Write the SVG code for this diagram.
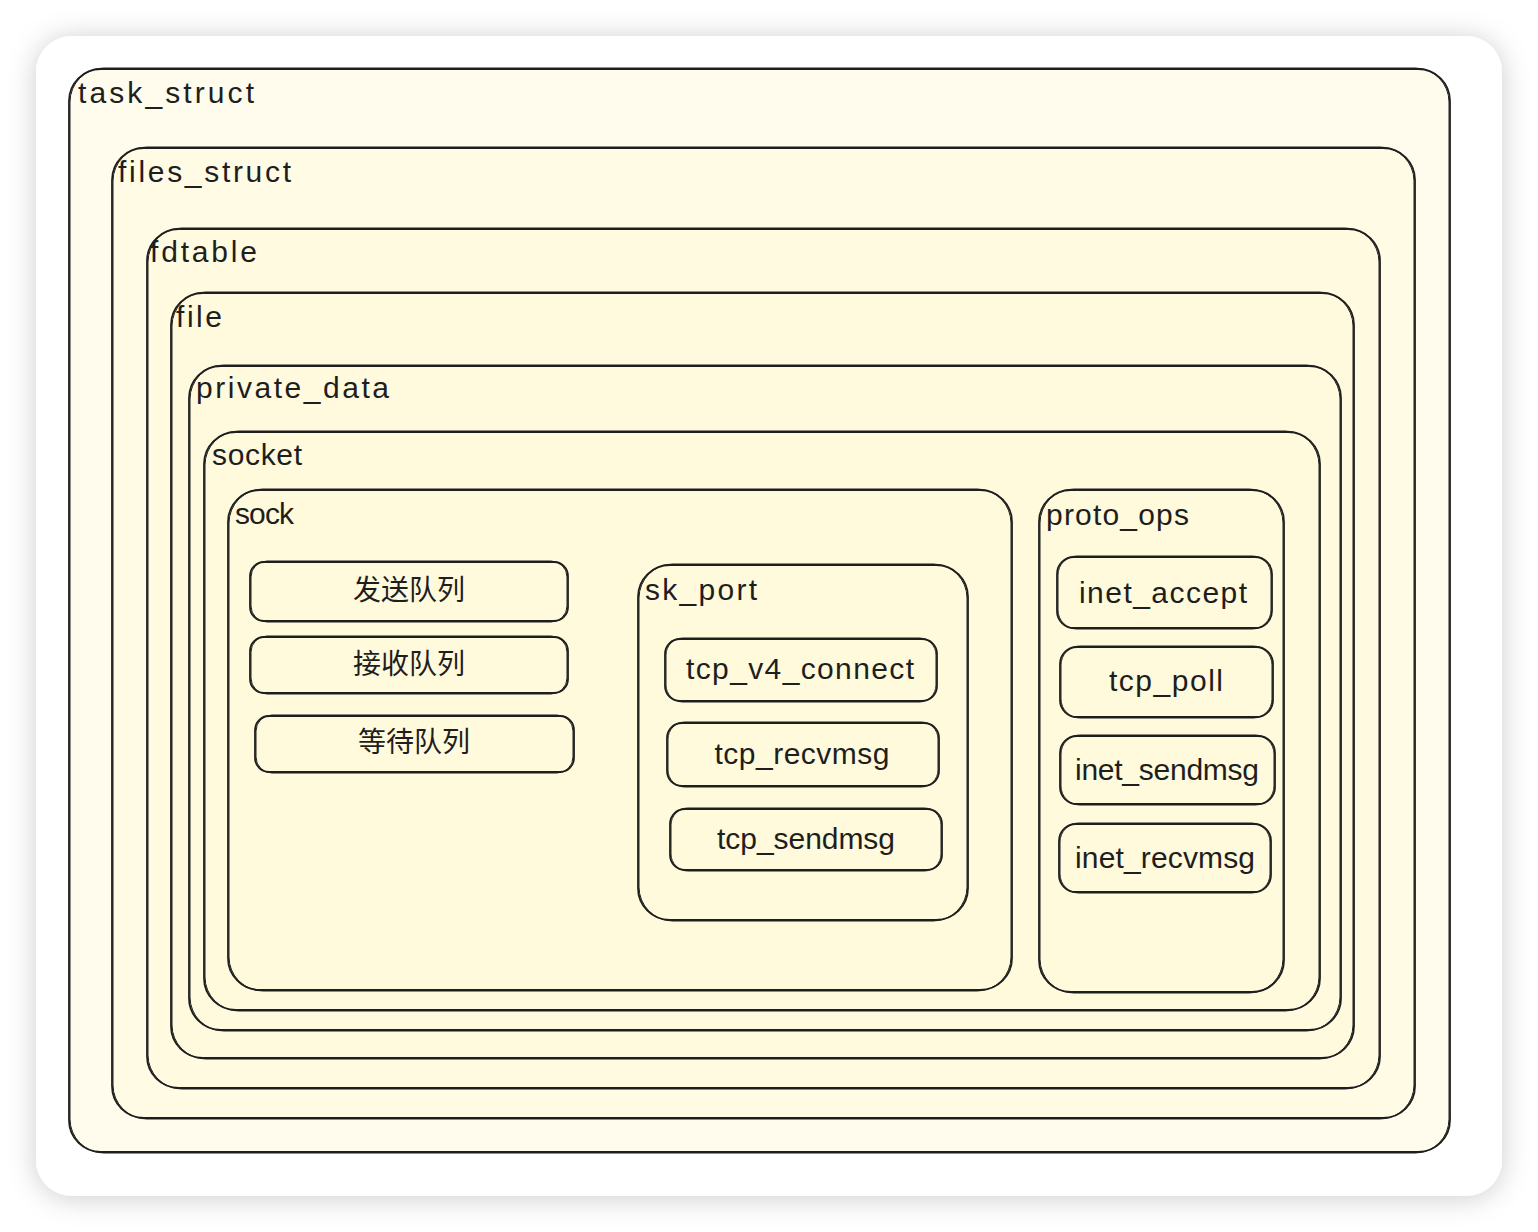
<svg xmlns="http://www.w3.org/2000/svg" width="1538" height="1232" viewBox="0 0 1538 1232">
<defs>
<filter id="shadow" x="-10%" y="-10%" width="120%" height="120%">
<feDropShadow dx="0" dy="2" stdDeviation="14" flood-color="#000" flood-opacity="0.2"/>
</filter>
</defs>
<style>
.f{fill:#fff9db;fill-opacity:0.5;stroke:#1e1e1e;stroke-width:1.8}
.o{fill:none;stroke:#1e1e1e;stroke-width:1}
.lbl{font-family:"Liberation Sans",Arial,sans-serif;font-size:30px;fill:#1e1e1e}
.mid{font-family:"Liberation Sans",Arial,sans-serif;font-size:30px;fill:#1e1e1e;text-anchor:middle;dominant-baseline:central}
.cjk{font-family:"Liberation Sans","Noto Sans CJK SC",sans-serif;font-size:28px;fill:#1e1e1e;text-anchor:middle;dominant-baseline:central}
</style>
<rect width="1538" height="1232" fill="#ffffff"/>
<rect x="36" y="36" width="1466" height="1160" rx="36" fill="#ffffff" filter="url(#shadow)"/>

<g id="task_struct">
<rect class="f" x="69" y="69" width="1381" height="1083" rx="32"/>
<rect class="o" x="70" y="68" width="1379" height="1085" rx="34"/>
<text class="lbl" x="78" y="103" textLength="176">task_struct</text>
</g>
<g id="files_struct">
<rect class="f" x="112" y="148" width="1303" height="970" rx="32"/>
<rect class="o" x="113" y="147" width="1301" height="972" rx="34"/>
<text class="lbl" x="118" y="182" textLength="173">files_struct</text>
</g>
<g id="fdtable">
<rect class="f" x="147" y="229" width="1233" height="859" rx="32"/>
<rect class="o" x="148" y="228" width="1231" height="861" rx="34"/>
<text class="lbl" x="150" y="262" textLength="107">fdtable</text>
</g>
<g id="file">
<rect class="f" x="171" y="293" width="1183" height="765" rx="32"/>
<rect class="o" x="172" y="292" width="1181" height="767" rx="34"/>
<text class="lbl" x="176" y="327" textLength="46">file</text>
</g>
<g id="private_data">
<rect class="f" x="189" y="366" width="1152" height="664" rx="32"/>
<rect class="o" x="190" y="365" width="1150" height="666" rx="34"/>
<text class="lbl" x="196" y="398" textLength="193">private_data</text>
</g>
<g id="socket">
<rect class="f" x="204" y="432" width="1116" height="578" rx="32"/>
<rect class="o" x="205" y="431" width="1114" height="580" rx="34"/>
<text class="lbl" x="212" y="465" textLength="90">socket</text>
</g>
<g id="sock">
<rect class="f" x="228" y="490" width="784" height="500" rx="32"/>
<rect class="o" x="229" y="489" width="782" height="502" rx="34"/>
<text class="lbl" x="235" y="524" textLength="59">sock</text>
</g>
<g id="proto_ops">
<rect class="f" x="1039" y="490" width="245" height="502" rx="32"/>
<rect class="o" x="1040" y="489" width="243" height="504" rx="34"/>
<text class="lbl" x="1046" y="525" textLength="143">proto_ops</text>
</g>

<g id="send_queue">
<rect class="f" x="250" y="562" width="318" height="59" rx="14"/>
<rect class="o" x="251" y="561" width="316" height="61" rx="16"/>
<text class="cjk" x="409" y="590">发送队列</text>
</g>
<g id="recv_queue">
<rect class="f" x="250" y="637" width="318" height="56" rx="14"/>
<rect class="o" x="251" y="636" width="316" height="58" rx="16"/>
<text class="cjk" x="409" y="664">接收队列</text>
</g>
<g id="wait_queue">
<rect class="f" x="255" y="716" width="319" height="56" rx="14"/>
<rect class="o" x="256" y="715" width="317" height="58" rx="16"/>
<text class="cjk" x="414" y="742">等待队列</text>
</g>

<g id="sk_port">
<rect class="f" x="638" y="565" width="330" height="355" rx="32"/>
<rect class="o" x="639" y="564" width="328" height="357" rx="34"/>
<text class="lbl" x="645" y="600" textLength="112">sk_port</text>
</g>
<g id="tcp_v4_connect">
<rect class="f" x="665" y="639" width="272" height="62" rx="15"/>
<rect class="o" x="666" y="638" width="270" height="64" rx="17"/>
<text class="mid" x="800" y="668" textLength="228">tcp_v4_connect</text>
</g>
<g id="tcp_recvmsg">
<rect class="f" x="667" y="723" width="272" height="63" rx="15"/>
<rect class="o" x="668" y="722" width="270" height="65" rx="17"/>
<text class="mid" x="802" y="753" textLength="175">tcp_recvmsg</text>
</g>
<g id="tcp_sendmsg">
<rect class="f" x="670" y="809" width="272" height="61" rx="15"/>
<rect class="o" x="671" y="808" width="270" height="63" rx="17"/>
<text class="mid" x="806" y="838" textLength="178">tcp_sendmsg</text>
</g>

<g id="inet_accept">
<rect class="f" x="1057" y="557" width="215" height="71" rx="17"/>
<rect class="o" x="1058" y="556" width="213" height="73" rx="19"/>
<text class="mid" x="1163" y="592" textLength="168">inet_accept</text>
</g>
<g id="tcp_poll">
<rect class="f" x="1060" y="647" width="213" height="70" rx="17"/>
<rect class="o" x="1061" y="646" width="211" height="72" rx="19"/>
<text class="mid" x="1166" y="680" textLength="114">tcp_poll</text>
</g>
<g id="inet_sendmsg">
<rect class="f" x="1060" y="736" width="215" height="68" rx="17"/>
<rect class="o" x="1061" y="735" width="213" height="70" rx="19"/>
<text class="mid" x="1167" y="769" textLength="184">inet_sendmsg</text>
</g>
<g id="inet_recvmsg">
<rect class="f" x="1059" y="824" width="212" height="68" rx="17"/>
<rect class="o" x="1060" y="823" width="210" height="70" rx="19"/>
<text class="mid" x="1165" y="857" textLength="180">inet_recvmsg</text>
</g>

<g id="connectors"></g>
</svg>
